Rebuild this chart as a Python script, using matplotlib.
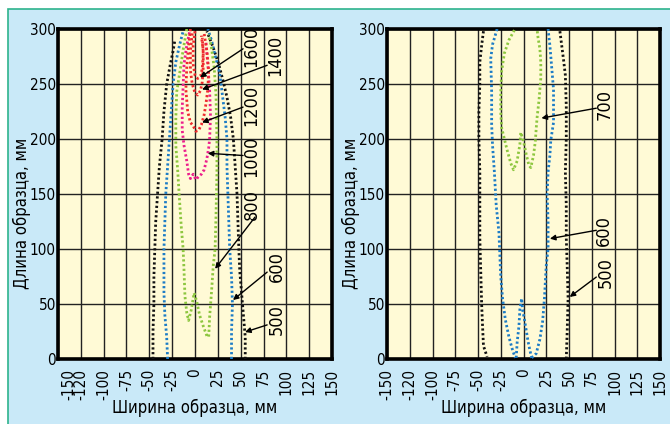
import os
import matplotlib
matplotlib.use("Agg")
from matplotlib import pyplot as plt
from matplotlib import font_manager as fm
from matplotlib.patches import Rectangle
import matplotlib.transforms as mtransforms

# the picture uses a narrow sans; take a condensed face if one is installed
FONT = dict(family=['Liberation Sans', 'DejaVu Sans'], stretch='normal')
SCALE = 0.85
for fam, st in [('Liberation Sans Narrow', 'normal'), ('DejaVu Sans', 'condensed')]:
    try:
        path = fm.findfont(fm.FontProperties(family=fam, stretch=st), fallback_to_default=False)
    except ValueError:
        continue
    name = os.path.basename(path).lower()
    if 'narrow' in name or 'condensed' in name:
        FONT = dict(family=[fam, 'DejaVu Sans'], stretch=st)
        SCALE = 1.0
        break
plt.rcParams['font.family'] = FONT['family']
plt.rcParams['font.stretch'] = FONT['stretch']

# x ticks (labels, incl. the odd "-120")
xticks = [-150, -125, -100, -75, -50, -25, 0, 25, 50, 75, 100, 125, 150]
xlabels = ["-150", "-120", "-100", "-75", "-50", "-25", "0", "25", "50", "75", "100", "125", "150"]
yticks = [0, 50, 100, 150, 200, 250, 300]

# ---- left panel ----
l500a_x = [-46, -46, -45, -45, -44, -43, -41, -39, -36, -34, -31, -27, -24, -22]
l500a_y = [0, 25, 50, 75, 100, 125, 150, 175, 200, 225, 250, 268, 280, 290]
l500b_x = [55, 55, 53, 51, 49, 48, 47, 46, 44, 42, 39, 35, 31, 26, 20, 13]
l500b_y = [0, 20, 40, 60, 80, 100, 125, 150, 175, 200, 220, 238, 252, 268, 283, 298]

l600a_x = [-30, -31, -33, -34, -34, -34, -33, -32, -30, -28, -26, -24, -21, -17, -13]
l600a_y = [0, 20, 40, 60, 80, 100, 125, 150, 175, 200, 225, 250, 270, 285, 298]
l600b_x = [40, 40, 41, 40, 38, 37, 36, 35, 35, 33, 30, 27, 22, 18, 14]
l600b_y = [0, 25, 50, 75, 100, 125, 150, 175, 200, 220, 240, 260, 276, 290, 300]

l800_x = [-9, -13, -16, -20, -21, -21, -19, -17, -15, -13, -12, -11, -9, -7, -4, -1, 2, 5, 9,
          13, 15, 16, 18, 20, 22, 23, 24, 24, 23, 21, 18, 15]
l800_y = [300, 281, 264, 243, 219, 194, 172, 145, 120, 100, 80, 57, 42, 35, 45, 60, 52, 40, 30,
          21, 20, 38, 60, 85, 100, 130, 170, 200, 240, 265, 283, 295]

l1000_x = [-6, -9, -12, -13, -14, -14, -12, -9, -7, -5, -2, 1, 4, 7, 10, 13, 15, 16, 17, 16, 14, 12]
l1000_y = [297, 285, 268, 248, 228, 208, 194, 180, 168, 164, 168, 163, 166, 168, 172, 182, 192, 200,
           220, 245, 268, 288]

l1200_x = [-5, -7, -9, -10, -8, -5, -2, 1, 4, 7, 10, 12, 14, 15, 13, 10]
l1200_y = [300, 285, 265, 245, 225, 215, 212, 207, 208, 213, 222, 232, 245, 262, 280, 296]
l1400_x = [-3, -5, -5, -3, 0, 3, 6, 8, 9, 9, 7]
l1400_y = [296, 280, 262, 250, 242, 240, 244, 252, 265, 280, 294]
l1600_x = [0, -2, -2, 0, 3, 6, 8, 9, 8]
l1600_y = [298, 285, 268, 258, 255, 257, 264, 278, 292]

# label, text pos, arrow start, arrow tip
left_notes = [
    ("1600", (62, 284), (52.6, 282), (5.5, 256)),
    ("1400", (88, 276), (79, 267), (7.7, 245)),
    ("1200", (62, 231), (52.6, 229), (7.7, 215)),
    ("1000", (62, 184), (52.6, 185), (14, 187)),
    ("800", (62, 140), (65.7, 129), (22, 82)),
    ("600", (90, 84), (79, 79), (41.6, 53.6)),
    ("500", (90, 36), (79, 31), (54.8, 24.5)),
]

# ---- right panel ----
r500a_x = [-44, -46, -48, -48, -49, -49, -48, -48, -48, -47, -46, -45, -44, -40]
r500a_y = [298, 285, 270, 250, 225, 200, 170, 140, 110, 80, 50, 30, 12, 2]
r500b_x = [40, 42, 44, 46, 47, 47, 46, 47, 47, 48, 49, 48, 47]
r500b_y = [298, 285, 272, 258, 230, 200, 170, 140, 110, 85, 55, 25, 0]

r600a_x = [-29, -34, -36, -35, -35, -34, -32, -30, -27, -26, -25, -23, -20, -16, -12, -9]
r600a_y = [300, 286, 273, 243, 213, 194, 170, 140, 115, 95, 75, 55, 36, 20, 8, 1]
r600c_x = [-8, -7, -5, -4, -2, -1, 1, 3, 5, 7, 9]
r600c_y = [1, 15, 30, 45, 55, 45, 36, 26, 16, 8, 1]
r600b_x = [9, 14, 18, 21, 23, 25, 27, 27, 26, 27, 29, 30, 33, 33, 33, 31, 29, 27]
r600b_y = [1, 5, 18, 34, 55, 85, 100, 125, 150, 170, 185, 199, 215, 230, 245, 265, 285, 300]

r700_x = [-10, -16, -21, -24, -25, -25, -24, -21, -18, -14, -11, -7, -4, -3, 0, 3, 6, 8, 11, 13,
          14, 15, 17, 19, 19, 18, 16, 15]
r700_y = [299, 290, 278, 262, 243, 224, 210, 200, 190, 178, 172, 180, 195, 206, 198, 186, 176, 174,
          185, 198, 210, 220, 235, 255, 270, 282, 292, 299]

right_notes = [
    ("700", (89, 231), (80, 228), (19.7, 219)),
    ("600", (88, 117), (80, 117), (29, 109.4)),
    ("500", (90, 79), (80, 74.5), (50.8, 56.4)),
]

BLACK = '#111111'
BLUE = '#1c7cc6'
GREEN = '#8dc63f'
MAGENTA = '#ec1e8c'
RED = '#ee2a2e'

left_curves = [
    (l500a_x, l500a_y, BLACK), (l500b_x, l500b_y, BLACK),
    (l600a_x, l600a_y, BLUE), (l600b_x, l600b_y, BLUE),
    (l800_x, l800_y, GREEN), (l1000_x, l1000_y, MAGENTA),
    (l1200_x, l1200_y, RED), (l1400_x, l1400_y, RED), (l1600_x, l1600_y, RED),
]
right_curves = [
    (r500a_x, r500a_y, BLACK), (r500b_x, r500b_y, BLACK),
    (r600a_x, r600a_y, BLUE), (r600c_x, r600c_y, BLUE), (r600b_x, r600b_y, BLUE),
    (r700_x, r700_y, GREEN),
]

fs_tick = 11 * SCALE
fs_lab = 12 * SCALE
fs_note = 13 * SCALE


def setup(ax):
    ax.set_facecolor('#fffad6')
    ax.set_xlim(-150, 150)
    ax.set_ylim(0, 300)
    ax.set_xticks(xticks)
    ax.set_xticklabels(xlabels, rotation=90, fontsize=fs_tick)
    ax.set_yticks(yticks)
    ax.set_yticklabels([str(v) for v in yticks], fontsize=fs_tick)
    ax.tick_params(length=0, pad=1.5)
    ax.tick_params(axis='x', pad=7)
    ax.grid(True, color='#222222', lw=1.0)
    ax.set_axisbelow(True)
    for s in ax.spines.values():
        s.set_linewidth(2.6)
        s.set_color('black')
    ax.set_xlabel("Ширина образца, мм", fontsize=fs_lab)
    ax.set_ylabel("Длина образца, мм", fontsize=fs_lab)
    ax.xaxis.set_label_coords(0.5, -0.122)
    ax.yaxis.set_label_coords(-0.098, 0.44)


def draw(ax, curves, notes):
    for xs, ys, col in curves:
        ax.plot(xs, ys, color=col, lw=2.0, linestyle=(0, (0.8, 0.9)),
                dash_capstyle='butt', zorder=3)
    for lab, tpos, start, tip in notes:
        ax.annotate('', xy=tip, xytext=start,
                    arrowprops=dict(arrowstyle='-|>', color='black', lw=1.0,
                                    mutation_scale=8, shrinkA=0, shrinkB=0),
                    zorder=4)
        ax.text(tpos[0], tpos[1], lab, rotation=90, ha='center', va='center',
                fontsize=fs_note, zorder=4)


fig = plt.figure(figsize=(6.7, 4.24), dpi=100)
fig.patch.set_facecolor('white')
fig.patches.append(Rectangle((8 / 670, -0.05), 1.0, 1 - 9 / 424 + 0.05,
                             transform=fig.transFigure, facecolor='#c9e9f8',
                             edgecolor='#2db38c', lw=1.2, zorder=-10))

ax1 = fig.add_axes([58 / 670, 1 - 359 / 424, 274 / 670, 330 / 424])
ax2 = fig.add_axes([387 / 670, 1 - 359 / 424, 273 / 670, 330 / 424])

for ax, curves, notes in [(ax1, left_curves, left_notes), (ax2, right_curves, right_notes)]:
    setup(ax)
    draw(ax, curves, notes)

# in the left panel the "-150" label sits off its grid line (as in the picture)
lab0 = ax1.get_xticklabels()[0]
lab0.set_transform(lab0.get_transform() + mtransforms.ScaledTranslation(11 / 100, 0, fig.dpi_scale_trans))

fig.savefig("out.png", dpi=100)
